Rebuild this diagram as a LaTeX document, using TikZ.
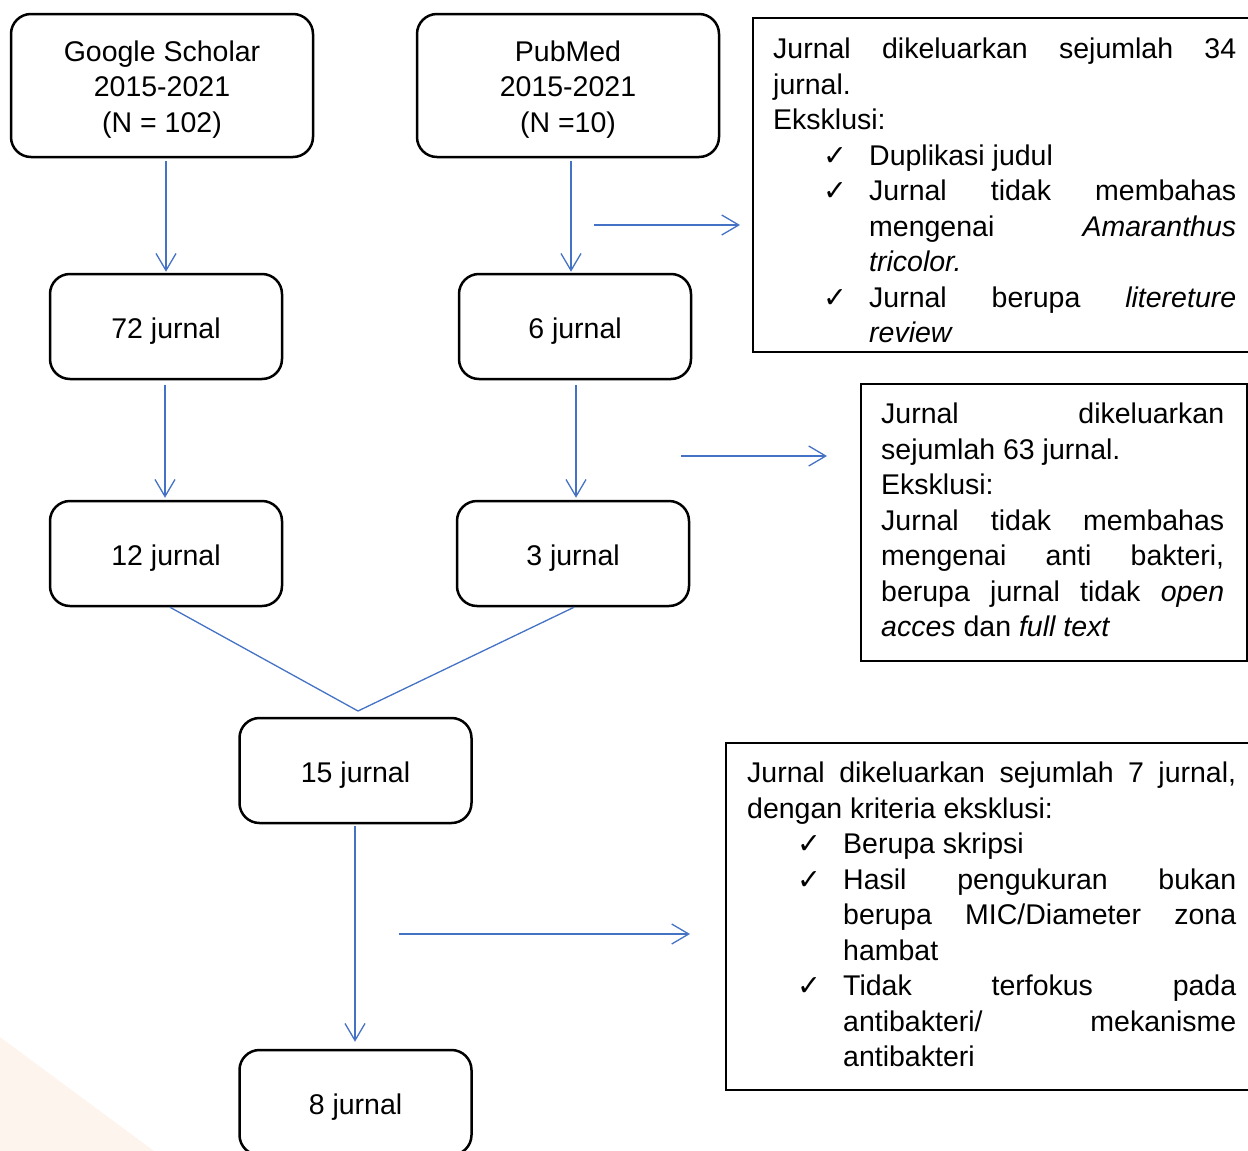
\documentclass[tikz,border=0pt]{standalone}
\usepackage{fontspec}
\setmainfont{Liberation Sans}
\newfontfamily\symfont{DejaVu Sans}
\usetikzlibrary{arrows.meta}
\definecolor{flowblue}{HTML}{4472C4}
\definecolor{peach}{HTML}{FEF4EE}
\newcommand{\chk}{\par\noindent\hangindent=96pt\hangafter=1\hspace*{50pt}\makebox[46pt][l]{\symfont ✓}}

\begin{document}
\begin{tikzpicture}[
    x=1pt, y=-1pt,
    every node/.style={font=\fontsize{28.5}{35.5}\selectfont, inner sep=0pt},
    jbox/.style={draw, line width=2.5pt, rounded corners=20pt, align=center,
        minimum width=232pt, minimum height=105pt, text height=23.4pt, text depth=0pt},
    srcbox/.style={jbox, minimum width=302pt, minimum height=143pt, text height=93.4pt},
    exframe/.style={draw, line width=2pt, anchor=north west},
    extext/.style={anchor=north west, align=justify},
    flow/.style={draw=flowblue, line width=1.3pt, -{Straight Barb[length=17pt,width=20pt]}},
    mergeline/.style={draw=flowblue, line width=1.3pt}
]
\useasboundingbox (0,0) rectangle (1248,1151);
\clip (0,0) rectangle (1248,1151);
\fill[peach] (0,1037) -- (154,1151) -- (0,1151) -- cycle;

% sources
\node[srcbox] (gs) at (162,85.5) {Google Scholar\\2015-2021\\(N = 102)};
\node[srcbox] (pm) at (568,85.5) {PubMed\\2015-2021\\(N =10)};

% screening
\node[jbox] (j72) at (166,326.5) {72 jurnal};
\node[jbox] (j6) at (575,326.5) {6 jurnal};
\node[jbox] (j12) at (166,553.5) {12 jurnal};
\node[jbox] (j3) at (573,553.5) {3 jurnal};
\node[jbox] (j15) at (355.5,770.5) {15 jurnal};
\node[jbox] (j8) at (355.5,1102.5) {8 jurnal};

% exclusion boxes
\node[exframe, minimum width=520pt, minimum height=334pt] (ex1) at (752,17) {};
\node[extext, text width=463pt] (ex1t) at (773,33.5) {\strut Jurnal dikeluarkan sejumlah 34\linebreak
    jurnal.\\Eksklusi:
    \chk Duplikasi judul
    \chk Jurnal tidak membahas\linebreak mengenai \textit{Amaranthus}\linebreak\textit{tricolor.}
    \chk Jurnal berupa \textit{litereture}\linebreak\textit{review}\par};

\node[exframe, minimum width=386pt, minimum height=277pt] (ex2) at (860,383) {};
\node[extext, text width=343pt] (ex2t) at (881,398.65) {\strut Jurnal dikeluarkan\linebreak
    sejumlah 63 jurnal.\\Eksklusi:\\Jurnal tidak membahas\linebreak
    mengenai anti bakteri,\linebreak berupa jurnal tidak \textit{open}\linebreak
    \textit{acces} dan \textit{full text}};

\node[exframe, minimum width=547pt, minimum height=347pt] (ex3) at (725,742) {};
\node[extext, text width=489pt] (ex3t) at (747,757.65) {\strut Jurnal dikeluarkan sejumlah 7 jurnal,\linebreak
    dengan kriteria eksklusi:
    \chk Berupa skripsi
    \chk Hasil pengukuran bukan\linebreak berupa MIC/Diameter zona\linebreak hambat
    \chk Tidak terfokus pada\linebreak antibakteri/ mekanisme\linebreak antibakteri\par};

% connectors
\coordinate (mrg) at (358,711);
\coordinate (h1) at (594,225);
\coordinate (h2) at (681,456);
\coordinate (h3) at (399,934);

\draw[flow, shorten <=3pt, shorten >=1pt] (j72.north |- gs.south) -- (j72.north);
\draw[flow, shorten <=3pt, shorten >=1pt] ([xshift=3pt]pm.south) -- ([xshift=-4pt]j6.north);
\draw[flow, shorten <=5pt, shorten >=2pt] ([xshift=-1pt]j72.south) -- ([xshift=-1pt]j12.north);
\draw[flow, shorten <=5pt, shorten >=2pt] ([xshift=1pt]j6.south) -- ([xshift=3pt]j3.north);
\draw[mergeline] ([xshift=4pt]j12.south) -- (mrg) -- ([xshift=1pt]j3.south);
\draw[flow, shorten <=2pt, shorten >=7pt] ([xshift=-0.5pt]j15.south) -- ([xshift=-0.5pt]j8.north);

\draw[flow, shorten >=12pt] (h1) -- (h1 -| ex1.west);
\draw[flow, shorten >=33pt] (h2) -- (h2 -| ex2.west);
\draw[flow, shorten >=35pt] (h3) -- (h3 -| ex3.west);
\end{tikzpicture}
\end{document}
